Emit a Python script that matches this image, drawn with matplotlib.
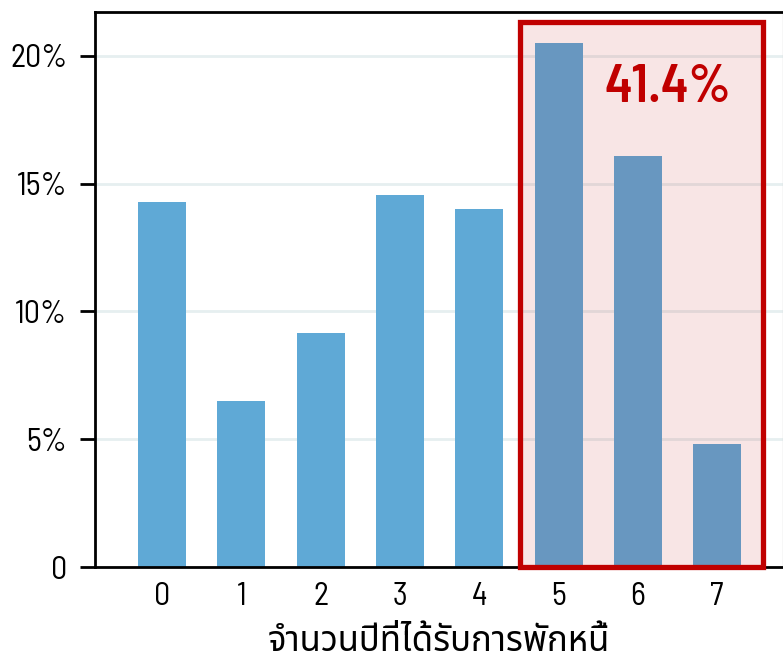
import matplotlib
matplotlib.use("Agg")
import matplotlib.pyplot as plt
from matplotlib.patches import Rectangle
from matplotlib.ticker import FixedLocator

plt.rcParams["font.family"] = ["Barlow Semi Condensed", "Noto Sans Thai", "DejaVu Sans"]

# สัดส่วนตามจำนวนปีที่ได้รับการพักหนี้
years = [0, 1, 2, 3, 4, 5, 6, 7]
share = [14.3, 6.5, 9.15, 14.55, 14.0, 20.5, 16.1, 4.8]
highlight = [5, 6, 7]
yticks = [0, 5, 10, 15, 20]
ytick_labels = ["0", "5%", "10%", "15%", "20%"]

fig = plt.figure(figsize=(7.83, 6.62), dpi=100)
ax = fig.add_axes([0.1213, 0.1435, 0.8787, 0.8384])

ax.bar(years, share, width=0.605, color="#5fa9d6", zorder=2)
ax.set_xlim(-0.845, 7.83)
ax.set_ylim(0, 21.72)

ax.yaxis.set_major_locator(FixedLocator(yticks))
ax.set_yticklabels(ytick_labels)
ax.set_xticks(years)
ax.grid(axis="y", color="#e6eff0", linewidth=2, zorder=0)
ax.set_axisbelow(True)

for s in ["left", "top", "bottom"]:
    ax.spines[s].set_linewidth(2)
    ax.spines[s].set_color("black")
ax.spines["right"].set_color("#d8d8d8")
ax.spines["right"].set_linewidth(1)

ax.tick_params(axis="y", length=11, width=2, labelsize=23, pad=9)
ax.tick_params(axis="x", length=0, labelsize=23, pad=11)
ax.set_xlabel("จำนวนปีที่ได้รับการพักหนี้", fontsize=25, labelpad=10)

# กรอบเน้นช่วง 5-7 ปี
total = sum(share[i] for i in highlight)
box = Rectangle((4.515, 0), 3.065, 21.33, facecolor=(0.75, 0, 0, 0.1),
                edgecolor="#c00000", linewidth=3.8, zorder=3, clip_on=False)
ax.add_patch(box)
ax.text(6.38, 18.75, f"{total:.1f}%", color="#c00000", fontsize=38,
        fontweight="semibold", ha="center", va="center", zorder=4)

fig.savefig("out.png")
